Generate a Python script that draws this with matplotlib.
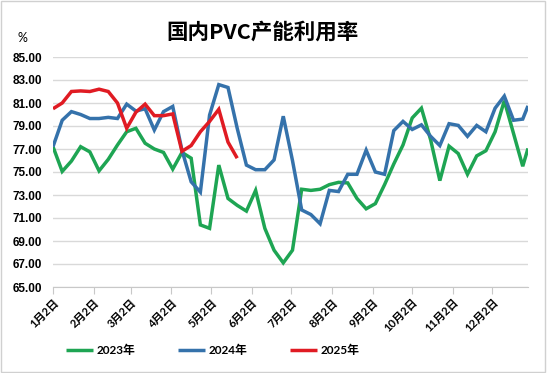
import matplotlib
matplotlib.use("Agg")
import matplotlib.pyplot as plt
import pandas as pd
from matplotlib.patches import Rectangle

# ---- data ----
title = "国内PVC产能利用率"
unit = "%"
series_names = ["2023年", "2024年", "2025年"]
tick_labels = ["1月2日", "2月2日", "3月2日", "4月2日", "5月2日", "6月2日",
               "7月2日", "8月2日", "9月2日", "10月2日", "11月2日", "12月2日"]
tick_dates = pd.to_datetime(["2023-%02d-02" % m for m in range(1, 13)])
week_dates = list(pd.date_range("2023-01-02", periods=52, freq="7D")) + [pd.Timestamp("2023-12-29")]

v2023 = [77.2, 75.05, 75.95, 77.2, 76.75, 75.1, 76.1, 77.35, 78.5, 78.8,
         77.5, 77.0, 76.7, 75.25, 76.7, 76.2, 70.4, 70.1, 75.6, 72.7,
         72.1, 71.6, 73.4, 70.1, 68.2, 67.1, 68.2, 73.5, 73.4, 73.5,
         73.9, 74.1, 74.05, 72.7, 71.8, 72.25, 73.9, 75.7, 77.35, 79.7,
         80.55, 77.8, 74.25, 77.25, 76.6, 74.8, 76.4, 76.85, 78.5, 81.2,
         78.35, 75.5, 77.05]
v2024 = [77.2, 79.5, 80.25, 80.0, 79.65, 79.65, 79.75, 79.65, 80.9, 80.3,
         80.5, 78.65, 80.25, 80.7, 76.9, 74.15, 73.25, 79.95, 82.6, 82.35,
         78.8, 75.6, 75.2, 75.2, 76.05, 79.85, 76.0, 71.7, 71.3, 70.5,
         73.4, 73.3, 74.8, 74.8, 76.9, 75.0, 74.8, 78.6, 79.4, 78.7,
         79.1, 78.1, 77.3, 79.2, 79.05, 78.1, 79.05, 78.5, 80.55, 81.6,
         79.5, 79.6, 80.75]
v2025 = [80.5, 81.0, 82.0, 82.05, 82.0, 82.2, 82.0, 81.0, 78.8, 80.2,
         80.9, 79.9, 79.9, 80.05, 76.8, 77.3, 78.5, 79.4, 80.45, 77.6,
         76.2]
y_ticks = [65, 67, 69, 71, 73, 75, 77, 79, 81, 83, 85]

colors = ["#1ea553", "#3572ab", "#e01b23"]

plt.rcParams['font.family'] = ['Lato', 'Noto Sans CJK SC', 'DejaVu Sans']

W, H = 547, 373
fig = plt.figure(figsize=(W / 100, H / 100), dpi=100)
fig.patch.set_facecolor("white")
fig.patches.append(Rectangle((0.002, 0.003), 0.995, 0.994, transform=fig.transFigure,
                             fill=False, edgecolor="#d0d0d0", linewidth=1.0))

ax = fig.add_axes([53 / W, 1 - 287 / H, (528 - 53) / W, (287 - 57) / H])

for vals, c, name in zip([v2023, v2024, v2025], colors, series_names):
    ax.plot(week_dates[:len(vals)], vals, color=c, linewidth=2.5, label=name,
            solid_joinstyle="miter", solid_capstyle="butt")

ax.set_ylim(65, 85)
ax.set_yticks(y_ticks)
ax.set_yticklabels(["%.2f" % t for t in y_ticks], fontsize=8.5, fontweight="bold",
                   family=['Liberation Sans', 'DejaVu Sans'])
ax.set_xlim(week_dates[0], week_dates[-1])
ax.set_xticks(tick_dates)
ax.set_xticklabels(tick_labels, rotation=45, ha="right", rotation_mode="anchor",
                   fontsize=8, fontweight="bold")

ax.grid(axis="y", color="#d9d9d9", linewidth=1.0)
ax.set_axisbelow(True)
for s in ["left", "right", "top"]:
    ax.spines[s].set_visible(False)
ax.spines["bottom"].set_color("#c8c8c8")
ax.tick_params(axis="y", length=0, pad=8)
ax.tick_params(axis="x", length=5, color="#c8c8c8", pad=2)

fig.text(262 / W, 1 - 32 / H, title, ha="center", va="center", fontsize=15.5,
         family=['Noto Sans CJK SC'], fontweight="bold")
fig.text(17 / W, 1 - 38 / H, unit, ha="left", va="center", fontsize=9)

fig.legend(loc="center", bbox_to_anchor=(213 / W, 1 - 350 / H), ncol=3,
           frameon=False, handlelength=2.3, handletextpad=0.3, columnspacing=3.6,
           prop={"size": 8.5, "weight": "bold"})

fig.savefig("out.png", dpi=100)
